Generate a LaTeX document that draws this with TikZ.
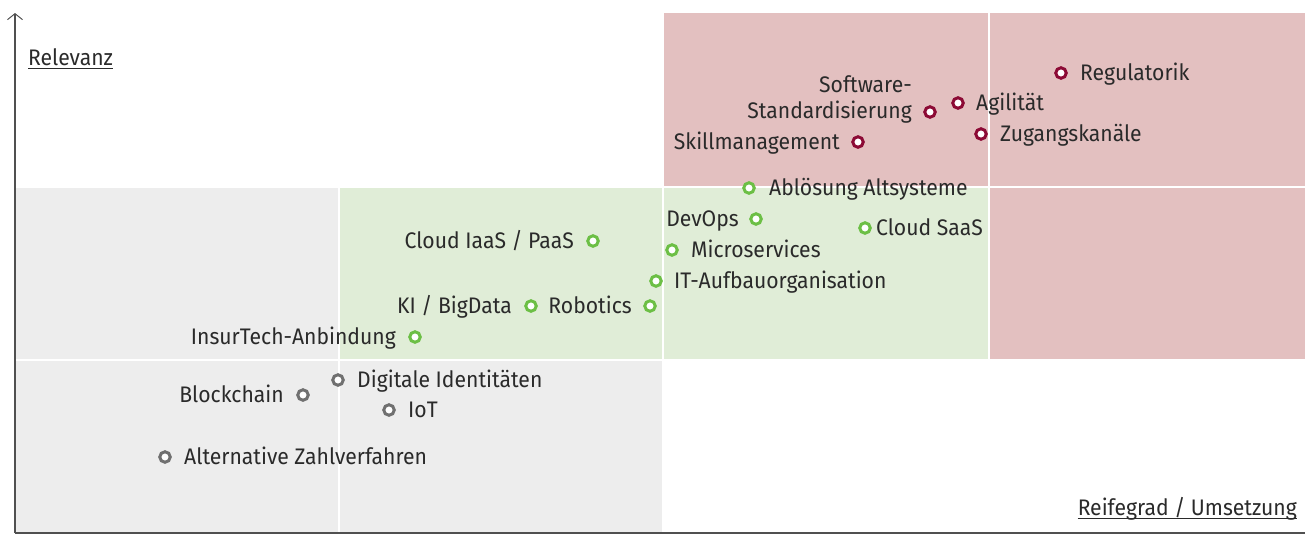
\documentclass[tikz,border=0pt]{standalone}
\usepackage{fontspec}
\setmainfont[FakeStretch=0.94]{Fira Sans}
\usetikzlibrary{arrows.meta}

\definecolor{txt}{HTML}{2A2A2A}
\definecolor{mred}{HTML}{8C0A35}
\definecolor{mgreen}{HTML}{6CBF45}
\definecolor{mgray}{HTML}{707070}
\definecolor{fred}{HTML}{E3C0C0}
\definecolor{fgreen}{HTML}{E0EDD7}
\definecolor{fgray}{HTML}{EDEDED}
\definecolor{axisc}{HTML}{505050}

\begin{document}
\begin{tikzpicture}[x=1pt,y=-1pt,
  lbl/.style={inner sep=0pt, text=txt, font=\fontsize{22.5}{26}\selectfont},
  lw/.style={lbl, anchor=base west},
  le/.style={lbl, anchor=base east},
  dot/.style={circle, fill=white, line width=3pt, minimum size=10.5pt, inner sep=0pt},
  dred/.style={dot, draw=mred},
  dgreen/.style={dot, draw=mgreen},
  dgray/.style={dot, draw=mgray},
  sep/.style={draw=white, line width=1.6pt},
  axisline/.style={draw=axisc, line width=1.3pt},
  uline/.style={draw=txt, line width=1.2pt}]

\useasboundingbox (0,0) rectangle (1305,536);

% coloured fields of the portfolio
\fill[fgray]  (15,187) rectangle (339,533);
\fill[fgray]  (339,360) rectangle (663,533);
\fill[fgreen] (339,187) rectangle (989,360);
\fill[fred]   (663,13) rectangle (1305,187);
\fill[fred]   (989,187) rectangle (1305,360);

% white grid lines between the fields
\draw[sep] (339,187) -- (339,533);
\draw[sep] (663,13) -- (663,533);
\draw[sep] (989,13) -- (989,360);
\draw[sep] (15,187) -- (1305,187);
\draw[sep] (15,360) -- (1305,360);

% axes
\coordinate (origin) at (15,533);
\coordinate (ytop) at (15,13);
\coordinate (xend) at (1305,533);
\draw[axisline, -{Straight Barb[length=6pt,width=15pt,line width=1pt]}] (origin) -- (ytop);
\draw[axisline, line width=1.5pt] (origin) -- (xend);

% axis titles
\node[lw] (relevanz) at (28,65) {Relevanz};
\draw[uline] ([yshift=-3.5pt]relevanz.base west) -- ([yshift=-3.5pt]relevanz.base east);
\node[le] (reife) at (1297,515) {Reifegrad / Umsetzung};
\draw[uline] ([yshift=-3.5pt]reife.base west) -- ([yshift=-3.5pt]reife.base east);

% high relevance, high maturity
\node[dred] (reg) at (1061,73) {};
\node[lw] (reg-t) at (1080,80) {Regulatorik};
\node[dred] (agi) at (958,103) {};
\node[lw] (agi-t) at (976,110) {Agilität};
\node[dred] (sstd) at (930,112) {};
\node[le] (sstd-ta) at (912,92) {Software-};
\node[le] (sstd-tb) at (912,118) {Standardisierung};
\node[dred] (zug) at (981,134) {};
\node[lw] (zug-t) at (1000,141) {Zugangskanäle};
\node[dred] (skill) at (858,142) {};
\node[le] (skill-t) at (840,149) {Skillmanagement};

% medium field
\node[dgreen] (abl) at (749,188) {};
\node[lw] (abl-t) at (769,195) {Ablösung Altsysteme};
\node[dgreen] (devops) at (756,219) {};
\node[le] (devops-t) at (739,226) {DevOps};
\node[dgreen] (saas) at (865,228) {};
\node[lw] (saas-t) at (876,235) {Cloud SaaS};
\node[dgreen] (iaas) at (593,241) {};
\node[le] (iaas-t) at (574,248) {Cloud IaaS / PaaS};
\node[dgreen] (micro) at (672,250) {};
\node[lw] (micro-t) at (691,257) {Microservices};
\node[dgreen] (itorg) at (656,281) {};
\node[lw] (itorg-t) at (674,288) {IT-Aufbauorganisation};
\node[dgreen] (kibd) at (531,306) {};
\node[le] (kibd-t) at (512,313) {KI / BigData};
\node[dgreen] (robo) at (650,306) {};
\node[le] (robo-t) at (632,313) {Robotics};
\node[dgreen] (insur) at (415,337) {};
\node[le] (insur-t) at (396,344) {InsurTech-Anbindung};

% low field
\node[dgray] (digi) at (338,380) {};
\node[lw] (digi-t) at (357,387) {Digitale Identitäten};
\node[dgray] (block) at (303,395) {};
\node[le] (block-t) at (284,402) {Blockchain};
\node[dgray] (iot) at (389,410) {};
\node[lw] (iot-t) at (408,417) {IoT};
\node[dgray] (alt) at (165,457) {};
\node[lw] (alt-t) at (184,464) {Alternative Zahlverfahren};

\end{tikzpicture}
\end{document}
